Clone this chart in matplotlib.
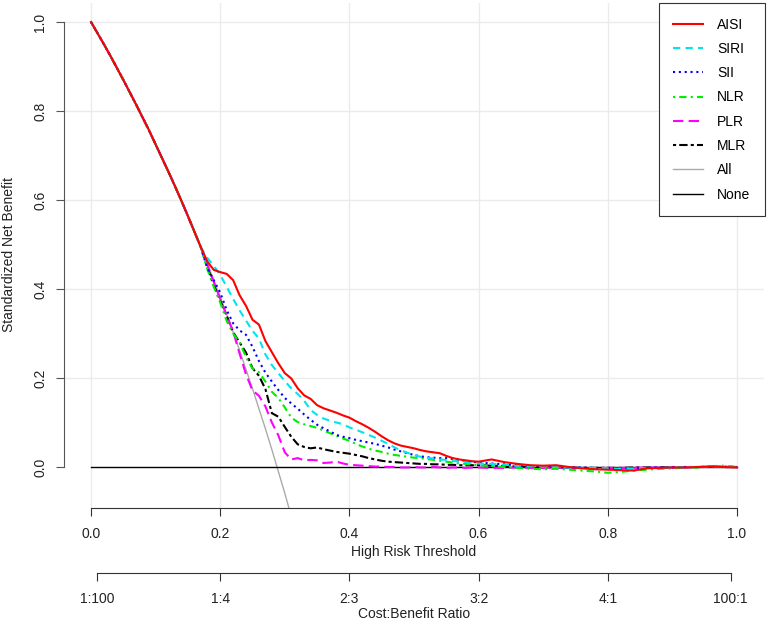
import numpy as np
import matplotlib
matplotlib.use("Agg")
from matplotlib import pyplot as plt
from matplotlib.lines import Line2D

plt.rcParams['font.family'] = ['Liberation Sans', 'DejaVu Sans']
plt.rcParams['font.size'] = 10

# thresholds: 0.00..0.60 by 0.01, then 0.62..1.00 by 0.02
thr = np.round(np.r_[np.arange(0, 0.605, 0.01), np.arange(0.62, 1.001, 0.02)], 2)

# part shared by every model (everyone treated below ~0.17)
head = [1.000, 0.975, 0.950, 0.924, 0.897, 0.870, 0.842, 0.814, 0.785, 0.756,
        0.725, 0.694, 0.663, 0.631, 0.598, 0.564, 0.529]

aisi = head + [0.494, 0.462, 0.443, 0.438, 0.434, 0.420, 0.386, 0.362, 0.331, 0.320,
               0.283, 0.258, 0.233, 0.211, 0.199, 0.177, 0.161, 0.153, 0.139, 0.132,
               0.127, 0.122, 0.116, 0.111, 0.103, 0.096, 0.088, 0.079, 0.069, 0.060,
               0.053, 0.048, 0.045, 0.042, 0.038, 0.035, 0.033, 0.031, 0.025, 0.020,
               0.017, 0.015, 0.013, 0.012,
               0.017, 0.011, 0.007, 0.004, 0.003, 0.004, 0.000, -0.003, -0.005, -0.006,
               -0.007, -0.008, -0.003, -0.002, -0.001, -0.001, 0.000, 0.001, 0.000, -0.001]
siri = head + [0.494, 0.470, 0.452, 0.432, 0.405, 0.378, 0.352, 0.329, 0.306, 0.289,
               0.253, 0.229, 0.211, 0.193, 0.177, 0.164, 0.149, 0.128, 0.117, 0.109,
               0.104, 0.100, 0.096, 0.089, 0.084, 0.078, 0.072, 0.066, 0.059, 0.052,
               0.044, 0.037, 0.032, 0.027, 0.023, 0.021, 0.019, 0.017, 0.016, 0.014,
               0.012, 0.011, 0.009, 0.008,
               0.007, 0.005, 0.003, 0.002, 0.001, 0.000, -0.001, -0.002, -0.002, -0.003,
               -0.004, -0.003, -0.002, -0.002, -0.001, 0.000, 0.000, 0.001, 0.001, 0.000]
sii = head + [0.494, 0.447, 0.420, 0.392, 0.353, 0.323, 0.307, 0.297, 0.270, 0.238,
              0.212, 0.192, 0.173, 0.155, 0.143, 0.131, 0.118, 0.106, 0.095, 0.087,
              0.080, 0.072, 0.068, 0.065, 0.061, 0.058, 0.055, 0.052, 0.048, 0.044,
              0.039, 0.035, 0.031, 0.027, 0.024, 0.022, 0.021, 0.020, 0.020, 0.018,
              0.016, 0.014, 0.012, 0.010,
              0.008, 0.006, 0.004, 0.002, 0.001, 0.000, -0.001, -0.001, -0.002, -0.002,
              -0.003, -0.003, -0.002, -0.001, -0.001, 0.000, 0.000, 0.000, 0.001, 0.000]
nlr = head + [0.494, 0.445, 0.405, 0.370, 0.328, 0.300, 0.280, 0.247, 0.221, 0.213,
              0.192, 0.169, 0.155, 0.134, 0.111, 0.101, 0.096, 0.092, 0.088, 0.082,
              0.076, 0.070, 0.064, 0.059, 0.052, 0.046, 0.041, 0.037, 0.034, 0.030,
              0.027, 0.025, 0.023, 0.021, 0.020, 0.018, 0.016, 0.014, 0.012, 0.010,
              0.008, 0.007, 0.005, 0.004,
              0.002, 0.000, -0.002, -0.004, -0.005, -0.004, -0.006, -0.008, -0.010, -0.013,
              -0.011, -0.008, -0.006, -0.004, -0.003, -0.002, -0.001, 0.002, 0.003, 0.000]
plr = head + [0.494, 0.455, 0.416, 0.378, 0.340, 0.305, 0.255, 0.208, 0.172, 0.160,
              0.136, 0.100, 0.071, 0.033, 0.017, 0.020, 0.015, 0.016, 0.015, 0.009,
              0.010, 0.012, 0.008, 0.005, 0.004, 0.003, 0.002, 0.001, 0.001, 0.000,
              0.000, -0.001, -0.001, 0.000, -0.001, -0.001, 0.000, -0.001, -0.002, -0.001,
              -0.001, -0.002, -0.001, -0.001,
              -0.002, -0.002, -0.001, -0.002, -0.002, -0.001, -0.002, -0.002, -0.003, -0.002,
              -0.002, -0.002, -0.001, -0.001, -0.001, -0.001, 0.000, 0.000, 0.000, 0.000]
mlr = head + [0.494, 0.450, 0.410, 0.374, 0.340, 0.303, 0.280, 0.257, 0.222, 0.205,
              0.175, 0.121, 0.113, 0.090, 0.068, 0.051, 0.045, 0.042, 0.044, 0.040,
              0.037, 0.034, 0.032, 0.030, 0.027, 0.024, 0.020, 0.017, 0.014, 0.012,
              0.011, 0.010, 0.009, 0.008, 0.007, 0.007, 0.006, 0.006, 0.005, 0.005,
              0.004, 0.004, 0.004, 0.004,
              0.003, 0.002, 0.001, 0.000, 0.000, -0.001, -0.001, -0.002, -0.002, -0.002,
              -0.002, -0.001, -0.001, -0.001, 0.000, 0.000, 0.000, 0.001, 0.000, 0.000]

# treat-all curve, thresholds 0.00..0.31
all_vals = head + [0.494, 0.457, 0.420, 0.382, 0.343, 0.303, 0.262, 0.219, 0.176,
                   0.131, 0.086, 0.039, -0.010, -0.059, -0.111]

models = ["AISI", "SIRI", "SII", "NLR", "PLR", "MLR"]
series = [aisi, siri, sii, nlr, plr, mlr]
colors = ["#FF0000", "#00E5EE", "#0000FF", "#00EE00", "#FF00FF", "#000000"]
styles = ["-", (0, (3.5, 2.5)), (0, (1, 1.8)), (0, (1, 2, 3.5, 2)),
          (0, (5, 2.5)), (0, (1.5, 1.5, 4, 1.5))]

x_ticks = [0.0, 0.2, 0.4, 0.6, 0.8, 1.0]
y_ticks = [0.0, 0.2, 0.4, 0.6, 0.8, 1.0]
cb_ticks = [0.01, 0.2, 0.4, 0.6, 0.8, 0.99]
cb_labels = ["1:100", "1:4", "2:3", "3:2", "4:1", "100:1"]

W, H = 767, 622
fig = plt.figure(figsize=(W / 100, H / 100), dpi=100)
ax = fig.add_axes([64 / W, 1 - 508 / H, 700 / W, 505 / H])
ax.set_xlim(-0.0418, 1.0418)
ax.set_ylim(-0.0921, 1.0427)

for v in x_ticks:
    ax.axvline(v, color="#EBEBEB", lw=1, zorder=0)
for v in y_ticks[1:]:
    ax.axhline(v, color="#EBEBEB", lw=1, zorder=0)

ax.plot(thr[:len(all_vals)], all_vals, color="#AAAAAA", lw=1, zorder=1)
ax.plot([0, 1], [0, 0], color="#000000", lw=1, zorder=1)

# draw the models, AISI last so it sits on top
for name, vals, c, ls in list(zip(models, series, colors, styles))[::-1]:
    ax.plot(thr, vals, color=c, ls=ls, lw=1.5, zorder=3)

for s in ["top", "right"]:
    ax.spines[s].set_visible(False)
ax.spines["left"].set_bounds(0, 1)
ax.spines["bottom"].set_bounds(0, 1)
ax.spines["left"].set_color("#555555")
ax.spines["bottom"].set_color("#333333")
ax.set_xticks(x_ticks)
ax.set_xticklabels([f"{v:.1f}" for v in x_ticks])
ax.set_yticks(y_ticks)
ax.set_yticklabels([f"{v:.1f}" for v in y_ticks], rotation=90, va="center")
ax.tick_params(axis="x", length=6, color="#333333", pad=8, labelcolor="#222222")
ax.tick_params(axis="y", length=6, color="#555555", pad=6, labelcolor="#222222")

fig.text(414 / W, 1 - 552 / H, "High Risk Threshold", ha="center", va="center", color="#222222")
fig.text(9 / W, 1 - 255 / H, "Standardized Net Benefit", rotation=90,
         ha="center", va="center", color="#222222")

# cost:benefit axis
ax2 = fig.add_axes([64 / W, 1 - 573 / H, 700 / W, 0.0001])
ax2.set_xlim(-0.0418, 1.0418)
ax2.patch.set_visible(False)
for s in ["top", "right", "left"]:
    ax2.spines[s].set_visible(False)
ax2.spines["bottom"].set_bounds(0.01, 0.99)
ax2.spines["bottom"].set_color("#333333")
ax2.set_yticks([])
ax2.set_xticks(cb_ticks)
ax2.set_xticklabels(cb_labels)
ax2.tick_params(axis="x", length=6, color="#333333", pad=8, labelcolor="#222222")
fig.text(414 / W, 1 - 614 / H, "Cost:Benefit Ratio", ha="center", va="center", color="#222222")

handles = [Line2D([], [], color=c, ls=ls, lw=1.5) for c, ls in zip(colors, styles)]
handles += [Line2D([], [], color="#AAAAAA", lw=1), Line2D([], [], color="#000000", lw=1)]
labels = models + ["All", "None"]
leg = fig.legend(handles, labels, loc="upper right", bbox_to_anchor=(765 / W, 1 - 3 / H),
                 frameon=True, fancybox=False, framealpha=1, edgecolor="#333333",
                 borderaxespad=0, borderpad=1.05, labelspacing=0.74, handlelength=2.15,
                 handletextpad=1.0, fontsize=10)
leg.get_frame().set_linewidth(0.8)

fig.savefig("out.png", dpi=100)
